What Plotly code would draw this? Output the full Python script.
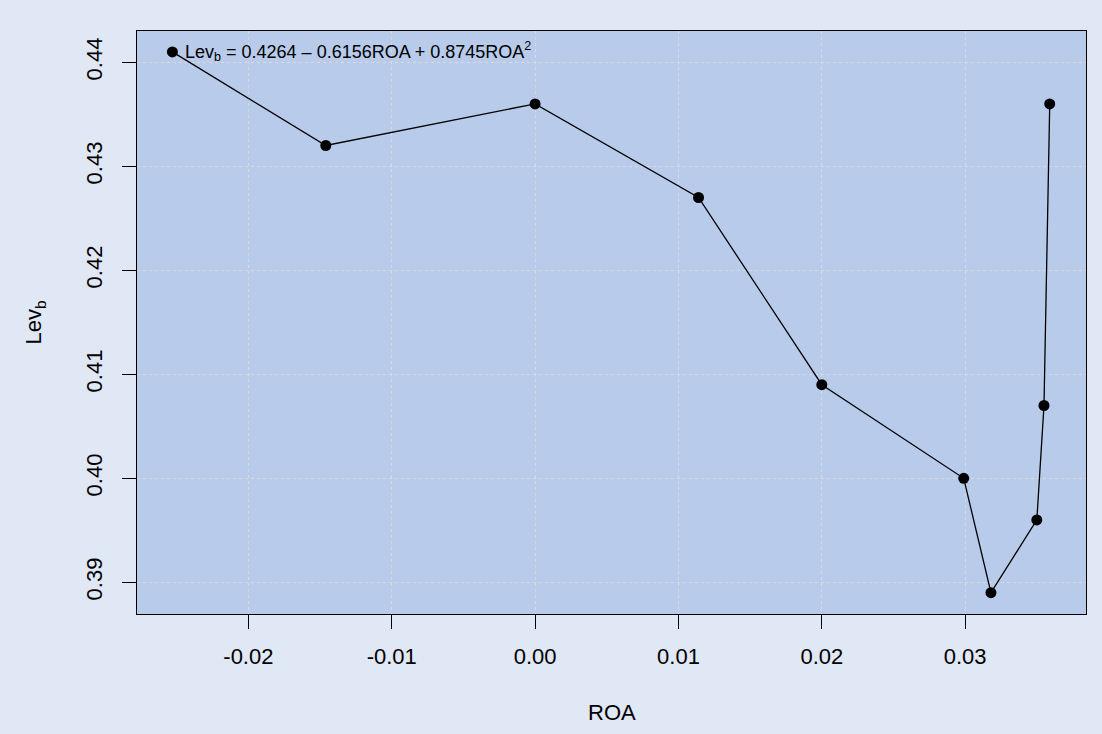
import plotly.graph_objects as go

roa = [-0.0253, -0.0146, 0.0000, 0.0114, 0.0200, 0.0299, 0.0318, 0.0350, 0.0355, 0.0359]
lev = [0.441, 0.432, 0.436, 0.427, 0.409, 0.400, 0.389, 0.396, 0.407, 0.436]
x_ticks = [-0.02, -0.01, 0.00, 0.01, 0.02, 0.03]
x_tick_labels = ["-0.02", "-0.01", "0.00", "0.01", "0.02", "0.03"]
y_ticks = [0.39, 0.40, 0.41, 0.42, 0.43, 0.44]
y_tick_labels = ["0.39", "0.40", "0.41", "0.42", "0.43", "0.44"]
equation = "Lev<sub>b</sub> = 0.4264 \u2013 0.6156ROA + 0.8745ROA<sup>2</sup>"

FONT = "Liberation Sans, Arial, sans-serif"

fig = go.Figure()
fig.add_trace(go.Scatter(
    x=roa, y=lev, mode="lines+markers",
    line=dict(color="black", width=1.3),
    marker=dict(color="black", size=11),
    showlegend=False, hoverinfo="skip",
))

fig.add_annotation(
    x=roa[0], y=lev[0], xref="x", yref="y", xanchor="left", yanchor="middle",
    xshift=11, text=equation, showarrow=False,
    font=dict(family=FONT, size=18, color="black"),
)
fig.add_annotation(
    x=0.5, y=-0.1698, xref="paper", yref="paper", xanchor="center", yanchor="middle",
    text="ROA", showarrow=False, font=dict(family=FONT, size=22, color="black"),
)
fig.add_annotation(
    x=-0.1075, y=0.5, xref="paper", yref="paper", xanchor="center", yanchor="middle",
    text="Lev<sub>b</sub>", textangle=-90, showarrow=False,
    font=dict(family=FONT, size=22, color="black"),
)

axis_common = dict(
    showline=True, linecolor="black", linewidth=1.3, mirror=True,
    ticks="outside", ticklen=14, tickcolor="black", tickwidth=1.3,
    showgrid=True, gridcolor="#DADADA", griddash="dot", gridwidth=1,
    zeroline=False, tickfont=dict(family=FONT, size=22, color="black"),
)

fig.update_xaxes(
    range=[-0.02777, 0.03843], tickvals=x_ticks, ticktext=x_tick_labels,
    ticklabelstandoff=8, **axis_common,
)
fig.update_yaxes(
    range=[0.38695, 0.44301], tickvals=y_ticks, ticktext=y_tick_labels,
    tickangle=-90, ticklabelstandoff=11, **axis_common,
)

fig.update_layout(
    width=1102, height=734,
    margin=dict(l=137, r=16, t=31, b=120),
    paper_bgcolor="#E0E7F5",
    plot_bgcolor="#B8CBEA",
    font=dict(family=FONT, color="black"),
)

fig.write_html(
    "out.html",
    config={"displayModeBar": False},
    post_script="document.body.style.margin='0';document.body.style.overflow='hidden';",
)
